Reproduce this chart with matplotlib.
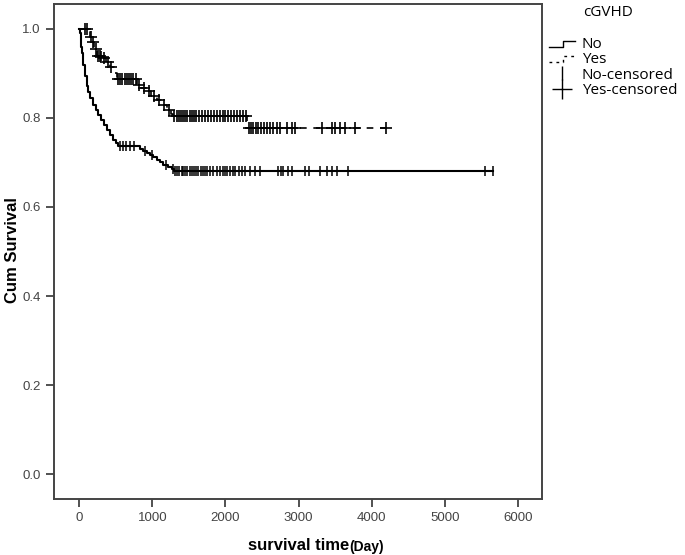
import numpy as np
import matplotlib
matplotlib.use('Agg')
import matplotlib.pyplot as plt
from matplotlib.lines import Line2D
from matplotlib.legend_handler import HandlerBase

# Kaplan-Meier steps (time in days, cumulative survival)
no_times = [0, 10, 20, 30, 40, 55, 75, 100, 123, 150, 192, 225, 260, 300, 340, 374, 420, 465,
            500, 534, 830, 875, 920, 967, 1010, 1059, 1100, 1149, 1213, 1264, 1300]
no_surv = [1.0, 0.99, 0.975, 0.96, 0.945, 0.92, 0.895, 0.872, 0.859, 0.845, 0.829, 0.818, 0.807,
           0.795, 0.784, 0.773, 0.762, 0.751, 0.743, 0.736, 0.73, 0.725, 0.721, 0.717, 0.712,
           0.706, 0.70, 0.694, 0.69, 0.686, 0.681]
no_end = 5660
no_censor = [560, 600, 640, 700, 750, 900, 1000, 1180, 1280, 1310, 1340, 1370, 1400, 1420, 1450,
             1480, 1510, 1540, 1570, 1600, 1630, 1660, 1690, 1720, 1750, 1790, 1830, 1880, 1920,
             1960, 2000, 2020, 2060, 2100, 2130, 2180, 2220, 2266, 2335, 2403, 2470, 2720, 2755,
             2790, 2855, 2910, 3087, 3140, 3292, 3383, 3453, 3521, 3670, 5550, 5660]

yes_times = [0, 140, 174, 205, 242, 290, 324, 370, 420, 470, 512, 790, 850, 922, 980, 1059,
             1120, 1196, 1250, 1282, 2295]
yes_surv = [1.0, 0.982, 0.97, 0.955, 0.94, 0.937, 0.934, 0.925, 0.915, 0.90, 0.888, 0.875, 0.868,
            0.86, 0.85, 0.84, 0.83, 0.818, 0.81, 0.804, 0.777]
yes_end = 4195
yes_censor = [78, 110, 160, 190, 230, 260, 280, 300, 340, 390, 440, 530, 560, 590, 620, 650, 680,
              710, 740, 770, 820, 880, 950, 1020, 1090, 1160, 1230, 1300, 1330, 1360, 1390, 1420,
              1450, 1480, 1510, 1540, 1570, 1600, 1640, 1680, 1720, 1760, 1800, 1840, 1880, 1920,
              1960, 2000, 2040, 2080, 2120, 2160, 2200, 2240, 2280, 2320, 2350, 2380, 2420, 2450,
              2490, 2530, 2570, 2610, 2650, 2700, 2746, 2840, 2910, 2950, 3316, 3453, 3500, 3560,
              3635, 3772, 4195]

xticks = [0, 1000, 2000, 3000, 4000, 5000, 6000]
yticks = [0.0, 0.2, 0.4, 0.6, 0.8, 1.0]
legend_labels = ['No', 'Yes', 'No-censored', 'Yes-censored']


def surv_at(times, surv, t):
    idx = np.searchsorted(times, t, side='right') - 1
    return np.asarray(surv)[idx]


class StepHandler(HandlerBase):
    def __init__(self, ls):
        super().__init__()
        self.ls = ls

    def create_artists(self, legend, orig, xd, yd, w, h, fontsize, trans):
        xs = [0, w * 0.55, w * 0.55, w]
        ys = [h * 0.1, h * 0.1, h * 0.7, h * 0.7]
        ln = Line2D(xs, ys, color='black', lw=1.0, linestyle=self.ls, transform=trans)
        return [ln]


plt.rcParams['font.family'] = ['Liberation Sans', 'DejaVu Sans']

fig = plt.figure(figsize=(6.85, 5.55), dpi=100)
ax = fig.add_axes([54 / 685, 56 / 555, 488 / 685, 495 / 555])

# No: solid line, | censoring marks
t = list(no_times) + [no_end]
s = list(no_surv) + [no_surv[-1]]
ax.step(t, s, where='post', color='black', lw=1.5)
ax.plot(no_censor, surv_at(no_times, no_surv, no_censor), linestyle='none',
        marker='|', markersize=7, markeredgewidth=1.1, color='black')

# Yes: dashed line, + censoring marks
t = list(yes_times) + [yes_end]
s = list(yes_surv) + [yes_surv[-1]]
ax.step(t, s, where='post', color='black', lw=1.2, dashes=(4, 4))
ax.plot(yes_censor, surv_at(yes_times, yes_surv, yes_censor), linestyle='none',
        marker='+', markersize=8, markeredgewidth=1.2, color='black')

ax.set_xlim(-346, 6330)
ax.set_ylim(-0.056, 1.056)
ax.set_xticks(xticks)
ax.set_xticklabels([str(v) for v in xticks])
ax.set_yticks(yticks)
ax.set_yticklabels([f'{v:.1f}' for v in yticks])
ax.tick_params(direction='out', length=6, width=1.2, colors='#333333', labelsize=9.5,
               labelcolor='#444444')
for sp in ax.spines.values():
    sp.set_linewidth(1.4)
    sp.set_color('#444444')

fig.text(13 / 685, 1 - 250 / 555, 'Cum Survival', rotation=90, ha='center', va='center',
         fontsize=12, fontweight='bold')
fig.text(349 / 685, 1 - 546 / 555, 'survival time', ha='right', va='center',
         fontsize=12, fontweight='bold')
fig.text(349 / 685, 1 - 547 / 555, '(Day)', ha='left', va='center',
         fontsize=10, fontweight='bold')

# legend outside the plot on the right
handles = [Line2D([], [], color='black'), Line2D([], [], color='black', ls='--'),
           Line2D([], [], color='black', ls='none', marker='|', markersize=10),
           Line2D([], [], color='black', ls='none', marker='+', markersize=14)]
leg = fig.legend(handles, legend_labels, loc='upper left',
                 bbox_to_anchor=(543 / 685, 1 - 31 / 555), frameon=False,
                 handler_map={handles[0]: StepHandler('-'), handles[1]: StepHandler((0, (2, 3)))},
                 prop={'family': 'Open Sans', 'size': 11}, handlelength=1.7,
                 handletextpad=0.45, labelspacing=0.02, borderaxespad=0)
fig.text(583 / 685, 1 - 12 / 555, 'cGVHD', ha='left', va='center',
         fontsize=11, family='Open Sans')

fig.savefig('out.png', dpi=100)
